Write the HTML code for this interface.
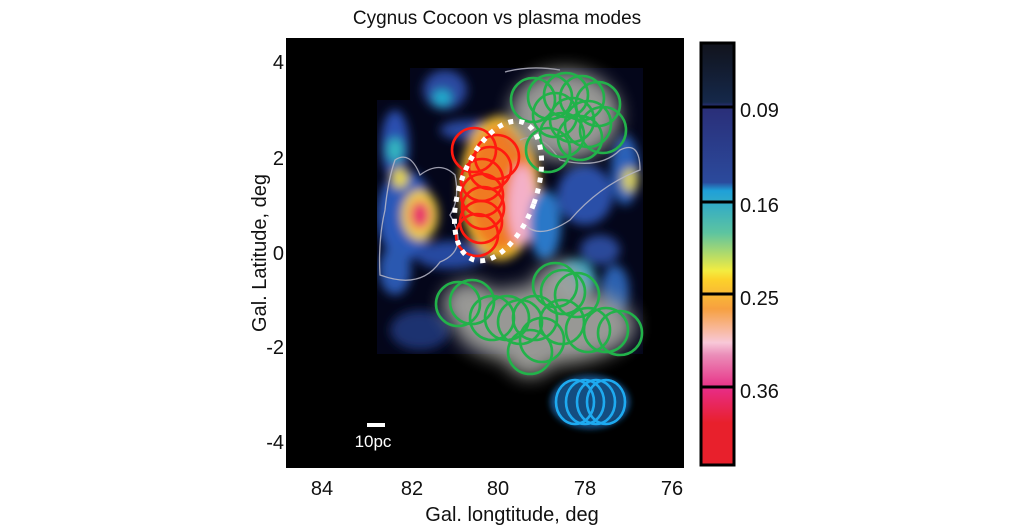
<!DOCTYPE html>
<html><head><meta charset="utf-8"><style>
html,body{margin:0;padding:0;background:#fff;width:1024px;height:531px;overflow:hidden}
text{font-family:"Liberation Sans",sans-serif;fill:#111}
</style></head><body>
<svg width="1024" height="531" viewBox="0 0 1024 531" xmlns="http://www.w3.org/2000/svg">
<defs>
<filter id="b6" x="-50%" y="-50%" width="200%" height="200%"><feGaussianBlur stdDeviation="5"/></filter>
<filter id="b3" x="-50%" y="-50%" width="200%" height="200%"><feGaussianBlur stdDeviation="3"/></filter>
<filter id="b10" x="-50%" y="-50%" width="200%" height="200%"><feGaussianBlur stdDeviation="9"/></filter>
<linearGradient id="cb" x1="0" y1="0" x2="0" y2="1">
<stop offset="0" stop-color="#11131c"/><stop offset="0.14" stop-color="#15284a"/>
<stop offset="0.15" stop-color="#2a2e78"/><stop offset="0.33" stop-color="#2b4a9c"/>
<stop offset="0.35" stop-color="#1fa0d8"/><stop offset="0.45" stop-color="#5dc4a0"/>
<stop offset="0.54" stop-color="#f3ec40"/><stop offset="0.56" stop-color="#fcd22a"/>
<stop offset="0.63" stop-color="#f7a040"/><stop offset="0.71" stop-color="#f8c8d8"/>
<stop offset="0.74" stop-color="#ea8cb8"/><stop offset="0.82" stop-color="#e82c84"/>
<stop offset="0.9" stop-color="#e8202c"/><stop offset="1" stop-color="#e8202c"/>
</linearGradient>
<clipPath id="pc"><rect x="286" y="38" width="398" height="430"/></clipPath>
<clipPath id="mc"><path d="M410 68 L643 68 L643 354 L377 354 L377 100 L410 100 Z"/></clipPath>
</defs>
<text x="497" y="24" font-size="19" text-anchor="middle">Cygnus Cocoon vs plasma modes</text>
<rect x="286" y="38" width="398" height="430" fill="#000"/>
<g clip-path="url(#pc)">
<path d="M410 68 L643 68 L643 354 L377 354 L377 100 L410 100 Z" fill="#04061a"/>
<g clip-path="url(#mc)">
<g filter="url(#b6)">
<ellipse cx="445" cy="90" rx="22" ry="20" fill="#2a4aa0"/>
<ellipse cx="442" cy="98" rx="9" ry="8" fill="#20b0d0"/>
<ellipse cx="395" cy="145" rx="14" ry="35" fill="#2a50b0"/>
<ellipse cx="395" cy="150" rx="8" ry="12" fill="#30b8c0"/>
<ellipse cx="405" cy="215" rx="28" ry="45" fill="#2a58b8"/>
<ellipse cx="400" cy="178" rx="8" ry="10" fill="#e8d840"/>
<ellipse cx="420" cy="215" rx="18" ry="25" fill="#f0d040"/>
<ellipse cx="420" cy="215" rx="10" ry="14" fill="#e8306a"/>
<ellipse cx="395" cy="270" rx="16" ry="25" fill="#2a58b0"/>
<ellipse cx="450" cy="255" rx="35" ry="14" fill="#2848a0"/>
<ellipse cx="470" cy="130" rx="30" ry="10" fill="#2a4aa0"/>
<ellipse cx="500" cy="188" rx="40" ry="72" fill="#f0c030"/>
<ellipse cx="500" cy="188" rx="34" ry="62" fill="#f07a20"/>
<ellipse cx="522" cy="205" rx="14" ry="40" fill="#f4b0c8"/>
<ellipse cx="545" cy="225" rx="16" ry="35" fill="#2a78c8"/>
<ellipse cx="585" cy="195" rx="28" ry="30" fill="#2a50a8"/>
<ellipse cx="625" cy="170" rx="14" ry="35" fill="#2a60b8"/>
<ellipse cx="630" cy="180" rx="8" ry="12" fill="#d8d060"/>
<ellipse cx="600" cy="250" rx="20" ry="15" fill="#2a4a9a"/>
<ellipse cx="615" cy="290" rx="14" ry="25" fill="#2a60b0"/>
<ellipse cx="575" cy="280" rx="20" ry="20" fill="#30a8c8"/>
<ellipse cx="420" cy="330" rx="30" ry="20" fill="#1a3070"/>
</g>
</g>
<g fill="none" stroke="#b8b8c8" stroke-width="1.3" opacity="0.85">
<path d="M395 160 Q410 150 420 175 Q440 160 455 175 Q460 200 450 215 Q470 250 440 262 Q420 290 380 275 Q378 240 385 210 Q388 180 395 160 Z"/>
<path d="M520 140 Q540 130 560 160 Q600 170 620 150 Q640 140 640 170 Q600 185 570 220 Q540 240 525 225"/>
<path d="M505 72 Q530 65 560 70"/>
</g>
<g filter="url(#b10)" fill="#a0a09c" opacity="0.95">
<ellipse cx="565" cy="115" rx="55" ry="45"/>
<ellipse cx="545" cy="325" rx="90" ry="40"/>
<ellipse cx="470" cy="305" rx="28" ry="24"/>
<ellipse cx="560" cy="290" rx="28" ry="28"/>
<ellipse cx="530" cy="355" rx="25" ry="22"/>
</g>
<g fill="none" stroke="#22b24a" stroke-width="2.6">
<circle cx="533" cy="100" r="22"/><circle cx="550" cy="97" r="22"/><circle cx="566" cy="95" r="22"/>
<circle cx="582" cy="98" r="22"/><circle cx="598" cy="104" r="22"/><circle cx="555" cy="115" r="22"/>
<circle cx="572" cy="120" r="22"/><circle cx="588" cy="124" r="23"/><circle cx="603" cy="130" r="23"/>
<circle cx="562" cy="135" r="22"/><circle cx="580" cy="138" r="22"/><circle cx="548" cy="150" r="22"/>
<circle cx="458" cy="304" r="22"/><circle cx="472" cy="302" r="22"/><circle cx="492" cy="318" r="22"/>
<circle cx="507" cy="318" r="22"/><circle cx="520" cy="322" r="22"/><circle cx="535" cy="318" r="22"/>
<circle cx="555" cy="285" r="22"/><circle cx="563" cy="292" r="22"/><circle cx="577" cy="295" r="22"/>
<circle cx="542" cy="340" r="22"/><circle cx="530" cy="352" r="22"/><circle cx="562" cy="322" r="22"/>
<circle cx="588" cy="330" r="22"/><circle cx="606" cy="330" r="22"/><circle cx="620" cy="333" r="22"/>
</g>
<g fill="none" stroke="#ff1a10" stroke-width="2.6">
<circle cx="474" cy="150" r="22"/><circle cx="497" cy="157" r="22"/><circle cx="490" cy="168" r="21"/>
<circle cx="482" cy="180" r="21"/><circle cx="482" cy="195" r="21"/><circle cx="483" cy="208" r="21"/>
<circle cx="481" cy="222" r="21"/><circle cx="477" cy="235" r="21"/>
</g>
<ellipse cx="498" cy="191" rx="38" ry="73" transform="rotate(20 498 191)" fill="none" stroke="#fff" stroke-width="5" stroke-dasharray="5 6"/>
<g filter="url(#b3)"><ellipse cx="590" cy="402" rx="40" ry="27" fill="#1a60a0" opacity="0.8"/></g>
<g fill="none" stroke="#1eaaf0" stroke-width="2.6">
<ellipse cx="575" cy="402" rx="19" ry="22"/><ellipse cx="585" cy="402" rx="19" ry="22"/>
<ellipse cx="596" cy="402" rx="19" ry="22"/><ellipse cx="606" cy="402" rx="19" ry="22"/>
</g>
<rect x="367" y="423" width="18" height="4" fill="#fff"/>
<text x="373" y="447" font-size="17" text-anchor="middle" style="fill:#fff">10pc</text>
</g>
<g font-size="20" text-anchor="end">
<text x="284" y="69">4</text><text x="284" y="165">2</text><text x="284" y="260">0</text>
<text x="284" y="354">-2</text><text x="284" y="449">-4</text>
</g>
<g font-size="20" text-anchor="middle">
<text x="322" y="495">84</text><text x="412" y="495">82</text><text x="498" y="495">80</text>
<text x="585" y="495">78</text><text x="672" y="495">76</text>
</g>
<text x="512" y="521" font-size="20" text-anchor="middle">Gal. longtitude, deg</text>
<text transform="translate(266 253) rotate(-90)" font-size="20" text-anchor="middle">Gal. Latitude,  deg</text>
<rect x="701" y="43" width="33" height="422" fill="url(#cb)" stroke="#000" stroke-width="3"/>
<g stroke="#000" stroke-width="3"><line x1="701" y1="107" x2="734" y2="107"/><line x1="701" y1="202" x2="734" y2="202"/><line x1="701" y1="294" x2="734" y2="294"/><line x1="701" y1="387" x2="734" y2="387"/></g>
<g font-size="20"><text x="740" y="117">0.09</text><text x="740" y="212">0.16</text><text x="740" y="305">0.25</text><text x="740" y="398">0.36</text></g>
</svg>
</body></html>
